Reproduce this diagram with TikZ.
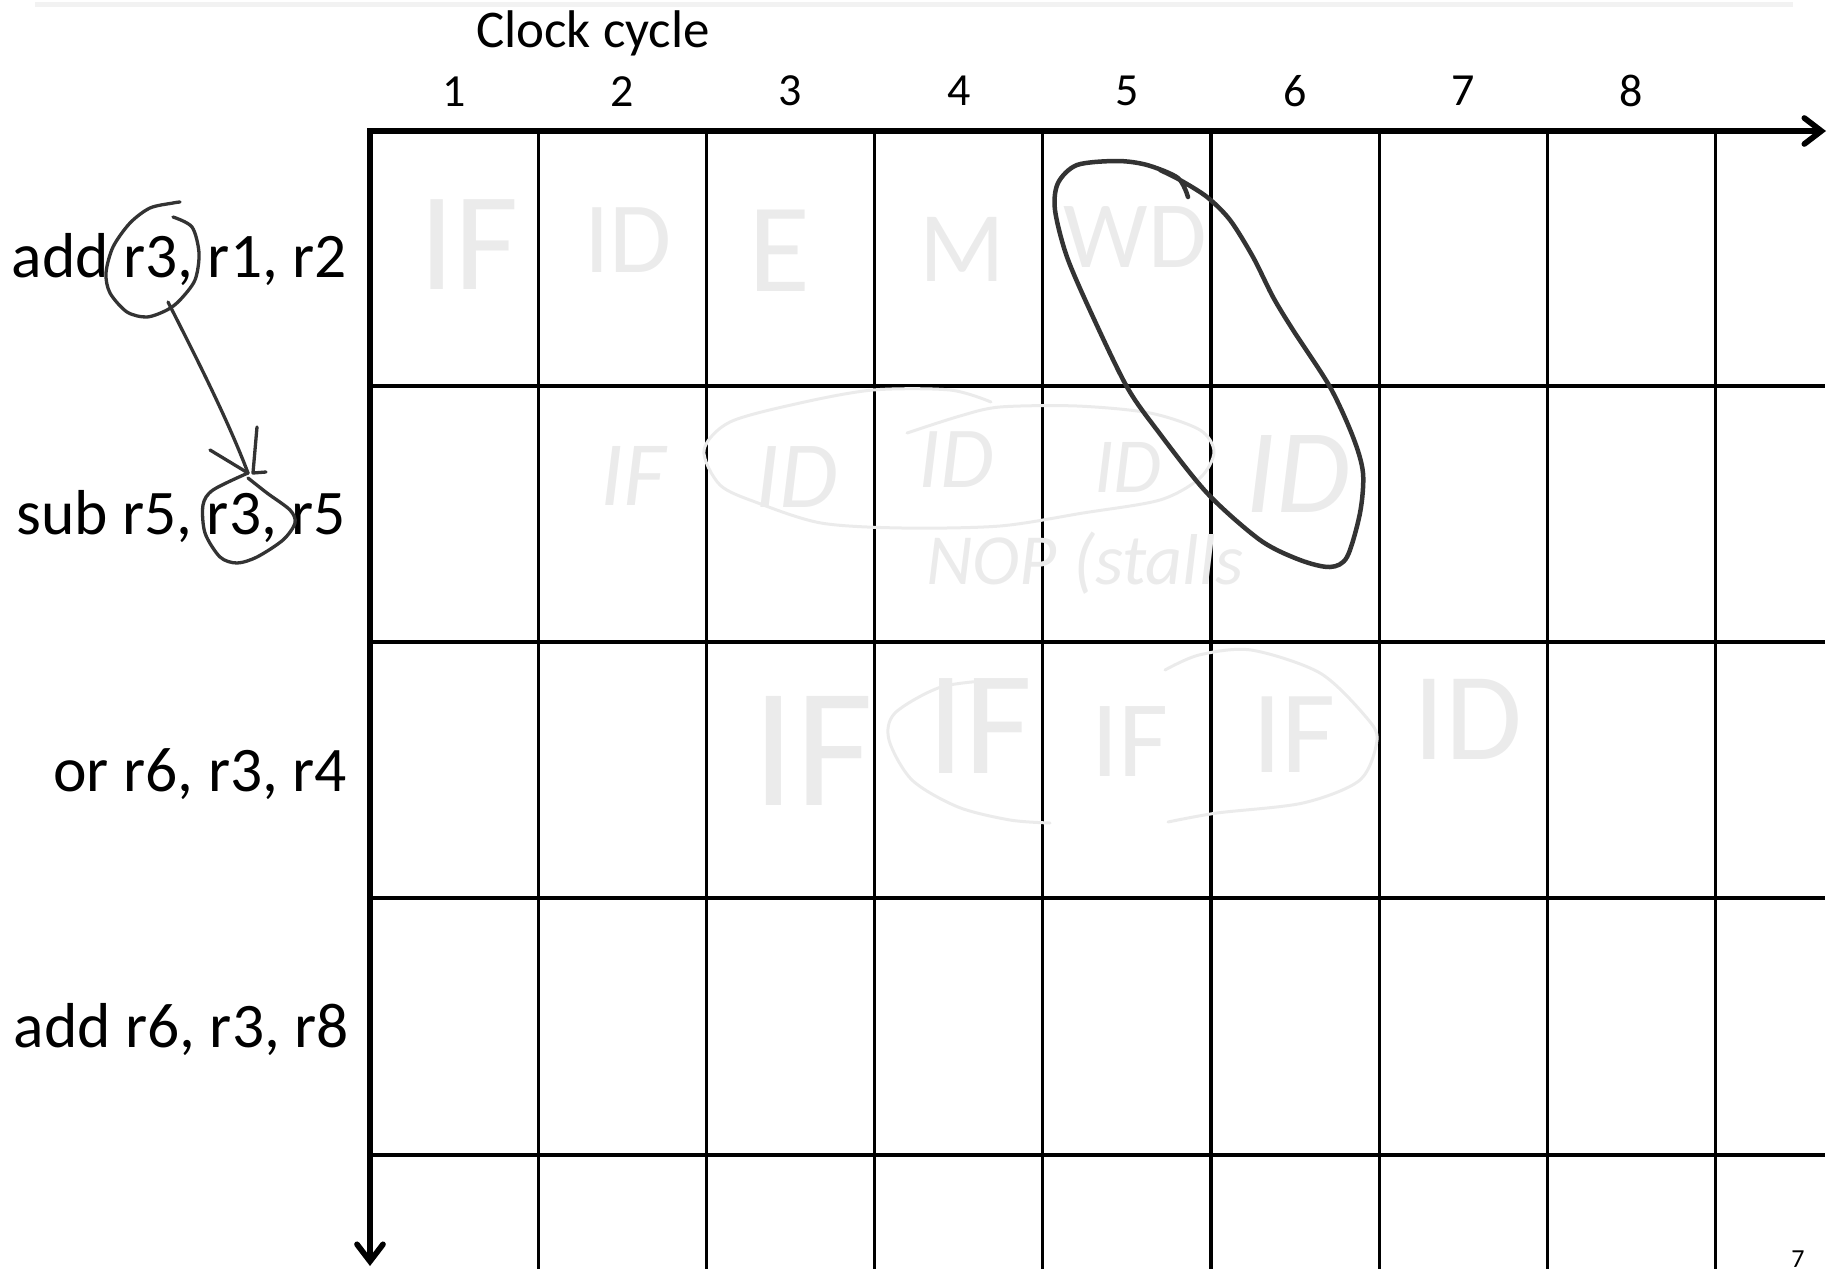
\documentclass[tikz,border=0pt]{standalone}
\usepackage{fontspec}
\setmainfont{Carlito}
\usepackage{tikz}
\usetikzlibrary{arrows.meta,positioning}

\begin{document}
\begin{tikzpicture}[x=1pt, y=-1pt, node distance=168.2pt,
    instr/.style={anchor=base east, inner sep=0pt, font=\fontsize{63.5}{63.5}\selectfont},
    cyclenum/.style={anchor=base, inner sep=0pt, font=\fontsize{46}{46}\selectfont},
    gridline/.style={draw, line width=3.3pt},
    axis/.style={draw, line width=5.7pt, line cap=rect, -{Straight Barb[length=17pt,width=26pt,line cap=round]}},
    ink/.style={draw=black!80, line width=3.3pt, line cap=round, line join=round},
    faint/.style={draw=black!8, line width=3pt, line cap=round},
    hand/.style={text=black!8, inner sep=0pt, font=\fontsize{#1}{#1}\selectfont},
    hand/.default=100,
    handit/.style={hand=#1, font=\itshape\fontsize{#1}{#1}\selectfont},
    handit/.default=90]

    \useasboundingbox (0,0) rectangle (1837,1269);
    \fill [black!5] (35,2) rectangle (1793,7);

    % Header
    \node [anchor=base west, inner sep=0pt, font=\fontsize{53}{53}\selectfont] (title) at (476,47) {Clock cycle};
    \node [cyclenum] (c1) at (454.1,106) {1};
    \node [cyclenum, right of=c1] (c2) {2};
    \node [cyclenum, right of=c2] (c3) {3};
    \node [cyclenum, right of=c3] (c4) {4};
    \node [cyclenum, right of=c4] (c5) {5};
    \node [cyclenum, right of=c5] (c6) {6};
    \node [cyclenum, right of=c6] (c7) {7};
    \node [cyclenum, right of=c7] (c8) {8};

    % Instructions
    \node [instr] (i1) at (347,277) {add r3, r1, r2};
    \node [instr] (i2) at (346,534) {sub r5, r3, r5};
    \node [instr] (i3) at (347,791) {or r6, r3, r4};
    \node [instr] (i4) at (349,1047) {add r6, r3, r8};

    % Grid
    \draw [gridline] (538.2,131) -- (538.2,1275);
    \draw [gridline] (706.4,131) -- (706.4,1275);
    \draw [gridline] (874.6,131) -- (874.6,1275);
    \draw [gridline] (1042.8,131) -- (1042.8,1275);
    \draw [gridline] (1211,131) -- (1211,1275);
    \draw [gridline] (1379.2,131) -- (1379.2,1275);
    \draw [gridline] (1547.4,131) -- (1547.4,1275);
    \draw [gridline] (1715.6,131) -- (1715.6,1275);
    \draw [gridline] (370,386) -- (1825,386);
    \draw [gridline] (370,642) -- (1825,642);
    \draw [gridline] (370,898) -- (1825,898);
    \draw [gridline] (370,1155) -- (1825,1155);

    % Axes
    \coordinate (origin) at (370,131);
    \coordinate (timeend) at (1826,131);
    \coordinate (instrend) at (370,1266);
    \draw [axis] (origin) -- (timeend);
    \draw [axis] (origin) -- (instrend);

    % Pencilled stages (faint)
    \node [hand=140] (w1) at (469,245) {IF};
    \node [hand=101] (w2) at (628,240) {ID};
    \node [hand=127] (w3) at (779,251) {E};
    \node [hand=100] (w4) at (962,249) {M};
    \node [hand=95] (w5) at (1135,237) {WD};

    \node [handit=92] (s1) at (633,476) {IF};
    \node [handit=95] (s2) at (797,477) {ID};
    \node [handit=87] (s3) at (956,460) {ID};
    \node [handit=78] (s4) at (1128,467) {ID};
    \node [handit=120] (s5) at (1298,474) {ID};
    \node [handit=72] (nop) at (1085,563) {NOP (stalls};

    \node [hand=170] (o1) at (813,751) {IF};
    \node [hand=148] (o2) at (980,726) {IF};
    \node [hand=109] (o3) at (1130,742) {IF};
    \node [hand=118] (o4) at (1294,735) {IF};
    \node [hand=125] (o5) at (1468,719) {ID};

    \draw [faint] plot[smooth] coordinates {(991,402) (950,390) (873,390) (800,403) (730,422) (704,450) (720,485) (758,503) (821,523) (902,528) (1000,526) (1083,513) (1160,500) (1200,478) (1214,452) (1200,430) (1150,413) (1077,406) (1000,407) (960,416) (907,433)};
    \draw [faint] plot[smooth] coordinates {(996,680) (941,687) (895,713) (889,740) (912,780) (958,807) (1010,820) (1050,823)};
    \draw [faint] plot[smooth] coordinates {(1165,670) (1199,655) (1251,650) (1320,673) (1366,717) (1377,740) (1360,780) (1303,803) (1217,813) (1168,822)};

    % Dependence r3
    \draw [ink] plot[smooth] coordinates {(173,217) (192,227) (199,253) (195,280) (180,300) (167,310) (147,317) (127,312) (110,293) (106,273) (113,247) (130,223) (150,208) (173,203) (180,202)};
    \draw [ink] plot[smooth] coordinates {(248,473) (213,490) (203,505) (205,533) (220,557) (237,563) (257,557) (283,540) (295,523) (290,510) (267,493) (248,478)};
    \coordinate (srcr3) at (168,302);
    \coordinate (dstr3) at (248,473);
    \draw [ink] (srcr3) .. controls (195,355) and (228,420) .. (dstr3);
    \draw [ink] (210,450) -- (dstr3);
    \draw [ink] (257,427) -- (253,473) -- (266,472);

    % WB to ID
    \draw [ink, line width=4.5pt] plot[smooth] coordinates {(1188,197) (1178,178) (1147,165) (1117,161) (1077,165) (1058,183) (1055,210) (1067,257) (1093,317) (1127,387) (1157,430) (1207,493) (1260,540) (1300,560) (1330,567) (1347,557) (1360,513) (1363,473) (1353,437) (1330,387) (1293,330) (1273,297) (1253,257) (1230,220) (1207,197) (1180,180) (1160,170)};

    \node [anchor=base, inner sep=0pt, font=\fontsize{26}{26}\selectfont] (pagenum) at (1798,1267) {7};

\end{tikzpicture}
\end{document}
